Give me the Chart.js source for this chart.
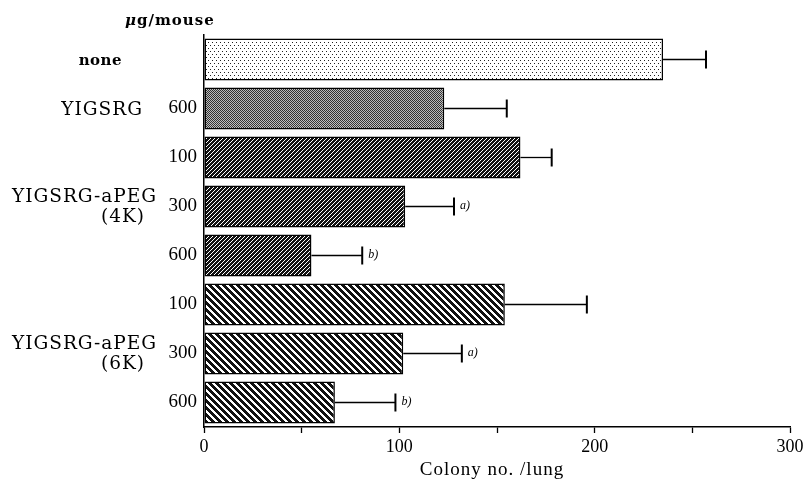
<!DOCTYPE html>
<html>
<head>
<meta charset="utf-8">
<script src="https://cdn.jsdelivr.net/npm/chart.js@4.4.1/dist/chart.umd.min.js"></script>
<style>
  body { margin: 0; background: #fff; }
</style>
</head>
<body>
<canvas id="grafico" width="804" height="480"></canvas>
<script>
// datos
const dosis = ["", "600", "100", "300", "600", "100", "300", "600"];
const colonias = [235, 123, 162, 103, 55, 154, 102, 67];
const errores = [22, 32, 16, 25, 26, 42, 30, 31];
const marcas = ["", "", "", "a)", "b)", "", "a)", "b)"];
const grupos = [["none"], ["YIGSRG"], ["YIGSRG-aPEG", "(4K)"], ["YIGSRG-aPEG", "(6K)"]];
const filasGrupo = [0, 1, 3, 6];
const ticksX = [0, 100, 200, 300];

const canvas = document.getElementById("grafico");
const ctxPrincipal = canvas.getContext("2d");

/* texturas de las barras */
function patron(tipo) {
  const c = document.createElement("canvas");
  const g = c.getContext("2d");
  if (tipo === "puntos") {
    c.width = 4; c.height = 6;
    g.fillStyle = "#fff"; g.fillRect(0, 0, 4, 6);
    g.fillStyle = "#222";
    g.fillRect(0, 0, 1, 1);
    g.fillRect(2, 3, 1, 1);
  } else if (tipo === "gris") {
    c.width = 2; c.height = 2;
    g.fillStyle = "#bdbdbd"; g.fillRect(0, 0, 2, 2);
    g.fillStyle = "#333";
    g.fillRect(0, 0, 1, 1);
    g.fillRect(1, 1, 1, 1);
  } else if (tipo === "fino") {
    c.width = 4; c.height = 4;
    for (let x = 0; x < 4; x++)
      for (let y = 0; y < 4; y++) {
        g.fillStyle = (x + y) % 4 === 0 ? "#fff" : "#111";
        g.fillRect(x, y, 1, 1);
      }
  } else {
    c.width = 7; c.height = 7;
    for (let x = 0; x < 7; x++)
      for (let y = 0; y < 7; y++) {
        g.fillStyle = ((x - y) % 7 + 7) % 7 < 4 ? "#111" : "#fff";
        g.fillRect(x, y, 1, 1);
      }
  }
  return ctxPrincipal.createPattern(c, "repeat");
}

const tipos = ["puntos", "gris", "fino", "fino", "fino", "ancho", "ancho", "ancho"];
const rellenos = tipos.map(patron);

/* errores, marcas y etiquetas de grupo */
const extras = {
  id: "extras",
  afterDatasetsDraw(chart) {
    const { ctx, scales } = chart;
    const barras = chart.getDatasetMeta(0).data;
    ctx.save();
    ctx.strokeStyle = "#000";
    ctx.fillStyle = "#000";
    barras.forEach((b, i) => {
      const fin = scales.x.getPixelForValue(colonias[i] + errores[i]);
      ctx.lineWidth = 1.3;
      ctx.beginPath();
      ctx.moveTo(b.x, b.y);
      ctx.lineTo(fin, b.y);
      ctx.stroke();
      ctx.lineWidth = 2;
      ctx.beginPath();
      ctx.moveTo(fin, b.y - 9);
      ctx.lineTo(fin, b.y + 9);
      ctx.stroke();
      if (marcas[i]) {
        ctx.font = "italic 12px 'Liberation Serif'";
        ctx.textBaseline = "middle";
        ctx.textAlign = "left";
        ctx.fillText(marcas[i], fin + 6, b.y - 1);
      }
    });

    // nombres de grupo a la izquierda
    const derecha = [[122], [143], [157, 145], [157, 145]];
    grupos.forEach((lineas, k) => {
      const yc = scales.y.getPixelForValue(filasGrupo[k]);
      ctx.textAlign = "right";
      ctx.textBaseline = "middle";
      if (k === 0) {
        ctx.font = "bold 15px 'DejaVu Serif'";
        ctx.letterSpacing = "0.5px";
      } else {
        ctx.font = "18.5px 'DejaVu Serif'";
        ctx.letterSpacing = "1px";
      }
      lineas.forEach((t, j) => {
        const y = lineas.length === 1 ? yc + 2 : yc - 9 + j * 20;
        ctx.fillText(t, derecha[k][j], y);
      });
    });

    // unidades arriba
    ctx.letterSpacing = "1px";
    ctx.textAlign = "left";
    ctx.textBaseline = "alphabetic";
    ctx.font = "italic bold 15px 'DejaVu Serif'";
    ctx.fillText("\u03bc", 125, 25);
    const w = ctx.measureText("\u03bc").width;
    ctx.font = "bold 15px 'DejaVu Serif'";
    ctx.fillText("g/mouse", 125 + w, 25);

    // titulo del eje x
    ctx.font = "19px 'Liberation Serif'";
    ctx.textAlign = "center";
    ctx.fillText("Colony no. /lung", 492, 475);
    ctx.restore();
  },
};

Chart.defaults.color = "#000";

new Chart(canvas, {
  type: "bar",
  data: {
    labels: dosis,
    datasets: [
      {
        data: colonias,
        backgroundColor: rellenos,
        borderColor: "#000",
        borderWidth: 1.5,
        borderSkipped: false,
        barPercentage: 0.86,
        categoryPercentage: 1,
      },
    ],
  },
  plugins: [extras],
  options: {
    indexAxis: "y",
    responsive: false,
    animation: false,
    layout: { padding: { top: 35, right: 14, left: 0, bottom: 0 } },
    plugins: {
      legend: { display: false },
      tooltip: { enabled: false },
    },
    scales: {
      x: {
        min: 0,
        max: 300,
        afterFit: (s) => {
          s.height = 53;
          s.paddingRight = 0;
          s.paddingLeft = 0;
        },
        afterBuildTicks: (s) => {
          s.ticks = [0, 50, 100, 150, 200, 250, 300].map((v) => ({ value: v }));
        },
        grid: { drawOnChartArea: false, color: "#000", tickLength: 6, tickWidth: 1.3 },
        border: { color: "#000", width: 1.5 },
        ticks: {
          autoSkip: false,
          maxRotation: 0,
          padding: 3,
          font: { family: "'Liberation Serif'", size: 18 },
          callback: (v) => (ticksX.includes(v) ? v : ""),
        },
      },
      y: {
        afterFit: (s) => { s.width = 204; },
        grid: { drawOnChartArea: false, drawTicks: false },
        border: { color: "#000", width: 1.5 },
        ticks: {
          padding: 7,
          font: { family: "'Liberation Serif'", size: 19 },
        },
      },
    },
  },
});
</script>
</body>
</html>
